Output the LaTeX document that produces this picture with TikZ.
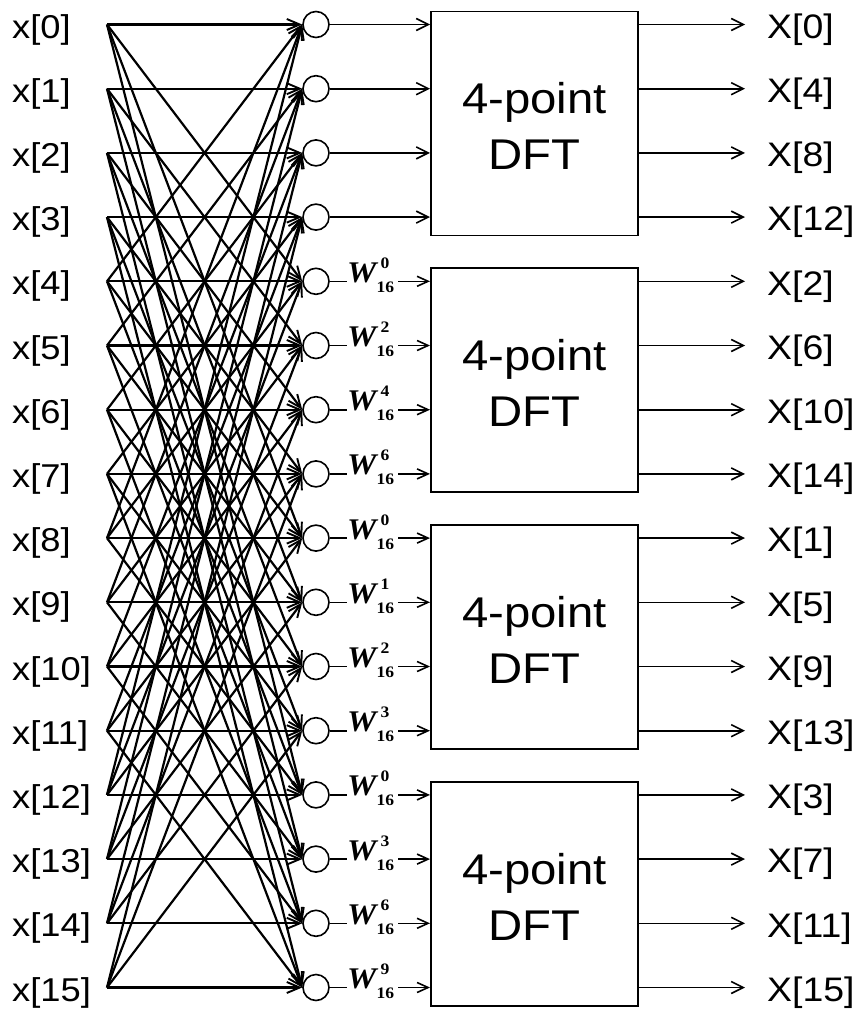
\documentclass[tikz,border=0pt]{standalone}
\usepackage{fontspec}
\setmainfont[FakeStretch=1.1]{Liberation Sans}
\newfontfamily\wfont[FakeStretch=1.1]{Liberation Serif}
\usetikzlibrary{arrows.meta}
\newcommand{\twid}[1]{{\wfont\bfseries\itshape\fontsize{30}{30}\selectfont W}\rlap{\hspace{4pt}\raisebox{14pt}{\wfont\bfseries\fontsize{16}{16}\selectfont #1}}\raisebox{-10pt}{\wfont\bfseries\fontsize{16}{16}\selectfont 16}}
\begin{document}
\begin{tikzpicture}[x=1pt,y=-1pt,
  inarr/.style={line width=2.2pt,-{Straight Barb[length=13pt,width=11pt,line width=1.9pt]}},
  outarr/.style={line width=1.6pt,-{Straight Barb[length=12pt,width=12pt,line width=1.6pt]}},
  warr/.style={line width=1.6pt,-{Straight Barb[length=11pt,width=10pt,line width=1.6pt]}},
  wline/.style={line width=1.6pt},
  sumnode/.style={circle,draw,line width=1.6pt,minimum size=26pt,inner sep=0pt},
  dftbox/.style={draw,line width=1.7pt,minimum width=207pt,minimum height=224pt,inner sep=0pt,anchor=north west},
  dfttext/.style={font=\fontsize{43}{56}\selectfont,align=center,inner sep=0pt},
  inlab/.style={font=\fontsize{33}{38}\selectfont,inner sep=0pt,anchor=west},
  outlab/.style={font=\fontsize{34}{38}\selectfont,inner sep=0pt,anchor=west},
  wlab/.style={inner sep=0pt,anchor=base west}]
\useasboundingbox (0,0) rectangle (858,1017);
% rows, inputs, summing nodes
\foreach \i in {0,...,15} {
  \pgfmathsetmacro\yy{24.5+64.2*\i}
  \coordinate (s\i) at (107,\yy);
  \node[inlab] (x\i) at (12,\yy+5) {x[\i]};
  \node[sumnode] (c\i) at (316,\yy) {};
}
% connections
\foreach \i in {0,...,15} {
  \foreach \m in {0,...,3} {
    \pgfmathtruncatemacro\j{mod(\i,4)+4*\m}
    \draw[inarr] (s\j) -- (c\i.west);
  }
}
% DFT boxes
\foreach \k in {0,...,3} {
  \pgfmathsetmacro\yt{24.5+64.2*4*\k-14}
  \node[dftbox] (b\k) at (430,\yt) {};
  \node[dfttext] (d\k) at ([yshift=-3pt]b\k.center) {4-point\\DFT};
}
% first group: direct arrows
\foreach \i in {0,...,3} {
  \draw[outarr] (c\i.east) -- (c\i.east -| b0.west);
}
% twiddle factors
\foreach \i/\e in {4/0,5/2,6/4,7/6,8/0,9/1,10/2,11/3,12/0,13/3,14/6,15/9} {
  \pgfmathsetmacro\yy{24.5+64.2*\i}
  \pgfmathtruncatemacro\k{int(\i/4)}
  \coordinate (wl\i) at (347,\yy);
  \coordinate (wr\i) at (398,\yy);
  \draw[wline] (c\i.east) -- (wl\i);
  \node[wlab] (w\i) at (347,\yy+1) {\twid{\e}};
  \draw[warr] (wr\i) -- (wr\i -| b\k.west);
}
% outputs
\foreach \i/\o in {0/0,1/4,2/8,3/12,4/2,5/6,6/10,7/14,8/1,9/5,10/9,11/13,12/3,13/7,14/11,15/15} {
  \pgfmathsetmacro\yy{24.5+64.2*\i}
  \pgfmathtruncatemacro\k{int(\i/4)}
  \coordinate (t\i) at (745,\yy);
  \draw[outarr] (b\k.east |- c\i) -- (t\i);
  \node[outlab] (X\i) at (767,\yy+5) {X[\o]};
}
\end{tikzpicture}
\end{document}
